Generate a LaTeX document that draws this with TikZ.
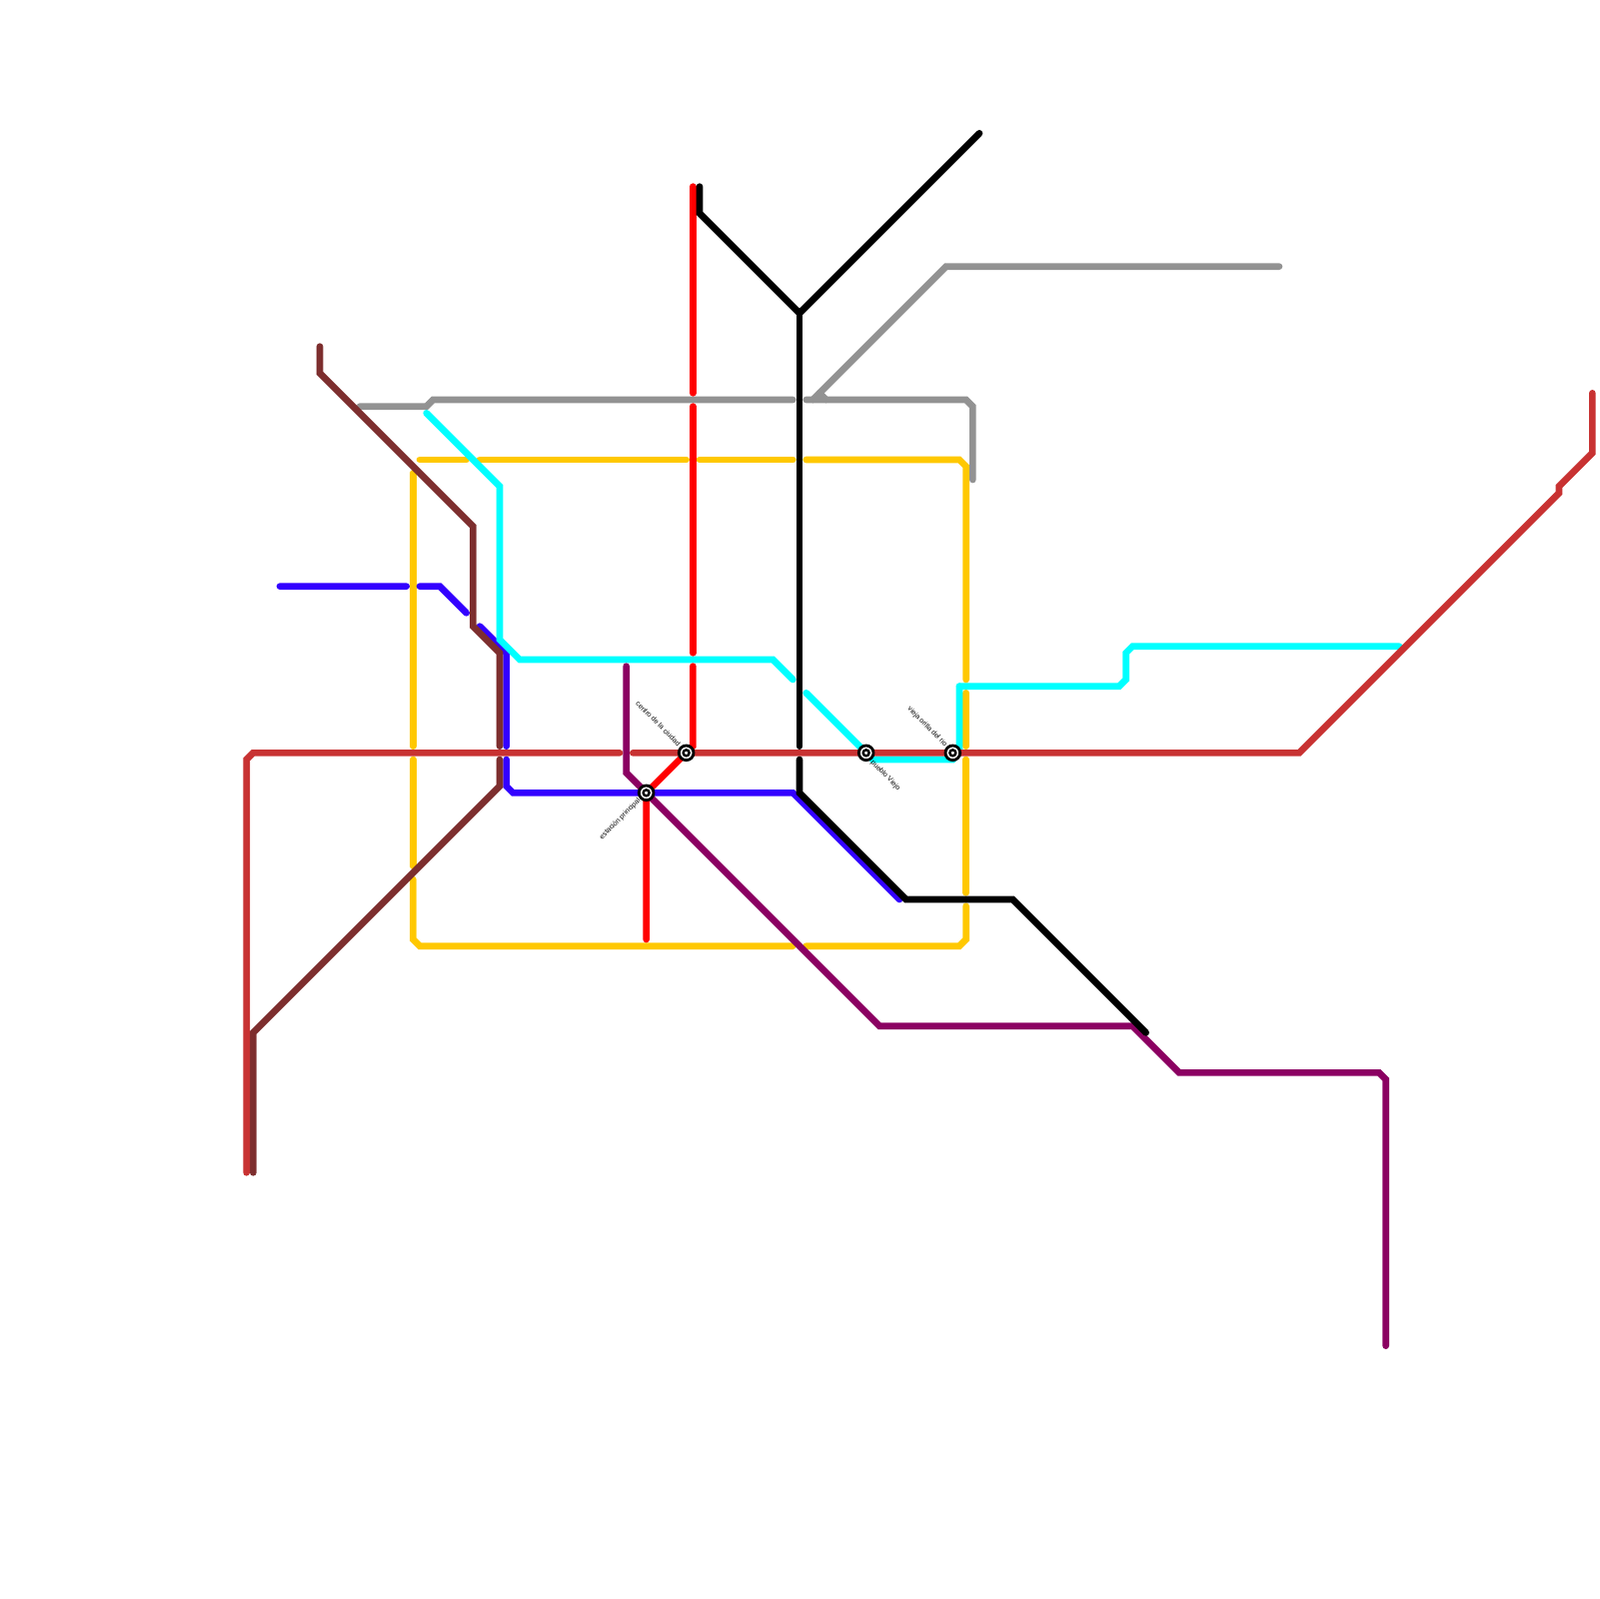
\documentclass[tikz,border=0pt]{standalone}
\usepackage{fontspec}
\setmainfont{Liberation Sans}
\usepackage{tikz}
\definecolor{linered}{HTML}{FF0000}
\definecolor{linerust}{HTML}{C83232}
\definecolor{linebrown}{HTML}{7D2E2E}
\definecolor{linepurple}{HTML}{8B0062}
\definecolor{lineblue}{HTML}{3300FF}
\definecolor{linecyan}{HTML}{00FFFF}
\definecolor{lineyellow}{HTML}{FFC800}
\definecolor{linegrey}{HTML}{929292}
\tikzset{
    metro/.style={line width=1mm,line cap=round},
    station/.style={circle,draw=black,fill=white,line width=0.42mm,minimum size=2.2mm,inner sep=0pt,
        path picture={\draw[black,line width=0.36mm] (path picture bounding box.center) circle (0.45mm);}},
    stationname/.style={font=\fontsize{3}{3.6}\selectfont,inner sep=0pt,text=black}
}

\begin{document}
\begin{tikzpicture}[x=1mm,y=-1mm]
        \useasboundingbox (0,0) rectangle (240,240);
        \coordinate (principal) at (97,119);
        \coordinate (centro) at (103,113);
        \coordinate (pueblo) at (130,113);
        \coordinate (orilla) at (143,113);

        \draw[metro,lineyellow] (63,69) -- (70,69) (72,69) -- (103,69) (105,69) -- (119,69);
        \draw[metro,lineyellow] (121,69) -- (144,69) -- (145,70) -- (145,102);
        \draw[metro,lineyellow] (145,104) -- (145,112) (145,114) -- (145,134);
        \draw[metro,lineyellow] (145,136) -- (145,141) -- (144,142) -- (121,142);
        \draw[metro,lineyellow] (119,142) -- (63,142) -- (62,141) -- (62,132);
        \draw[metro,lineyellow] (62,130) -- (62,114) (62,112) -- (62,71);

        \draw[metro,linegrey] (54,61) -- (64,61) -- (65,60) -- (119,60);
        \draw[metro,linegrey] (121,60) -- (145,60) -- (146,61) -- (146,72);
        \draw[metro,linegrey] (122,60) -- (142,40) -- (192,40);
        \draw[metro,linegrey] (123,59) -- (124,60);

        \draw[metro,lineblue] (42,88) -- (61,88) (63,88) -- (66,88) -- (70,92);
        \draw[metro,lineblue] (72,94) -- (76,98) -- (76,112);
        \draw[metro,lineblue] (76,114) -- (76,118) -- (77,119) -- (119,119) -- (135,135);

        \draw[metro,linebrown] (48,52) -- (48,56) -- (71,79) -- (71,94) -- (75,98) -- (75,112);
        \draw[metro,linebrown] (75,114) -- (75,118) -- (38,155) -- (38,176);

        \draw[metro,linecyan] (64,62) -- (75,73) -- (75,96) -- (78,99) -- (116,99) -- (119,102);
        \draw[metro,linecyan] (121,104) -- (pueblo) -- (131,114) -- (143,114) -- (144,113) -- (144,103);
        \draw[metro,linecyan] (144,103) -- (168,103) -- (169,102) -- (169,98) -- (170,97) -- (210,97);

        \draw[metro,linepurple] (94,100) -- (94,116) -- (principal) -- (132,154) -- (170,154) -- (177,161) -- (207,161) -- (208,162) -- (208,202);

        \draw[metro,linered] (104,28) -- (104,59) (104,61) -- (104,98);
        \draw[metro,linered] (104,100) -- (104,112) -- (centro) -- (principal) -- (97,141);

        \draw[metro,linerust] (37,176) -- (37,114) -- (38,113) -- (93,113);
        \draw[metro,linerust] (95,113) -- (195,113) -- (234,74) -- (234,73) -- (239,68) -- (239,59);

        \draw[metro,black] (105,28) -- (105,32) -- (120,47) -- (147,20);
        \draw[metro,black] (120,47) -- (120,112);
        \draw[metro,black] (120,114) -- (120,119) -- (136,135) -- (152,135) -- (172,155);

        \node[station] (stprincipal) at (principal) {};
        \node[station] (stcentro) at (centro) {};
        \node[station] (stpueblo) at (pueblo) {};
        \node[station] (storilla) at (orilla) {};

        \node[stationname,rotate=45,anchor=east] (nameprincipal) at (96,120) {estación principal};
        \node[stationname,rotate=-45,anchor=east] (namecentro) at (102,111.8) {centro de la ciudad};
        \node[stationname,rotate=-45,anchor=west] (namepueblo) at (130.8,114.3) {pueblo Viejo};
        \node[stationname,rotate=-45,anchor=east] (nameorilla) at (142,111.9) {vieja orilla del rio};
    \end{tikzpicture}
\end{document}
